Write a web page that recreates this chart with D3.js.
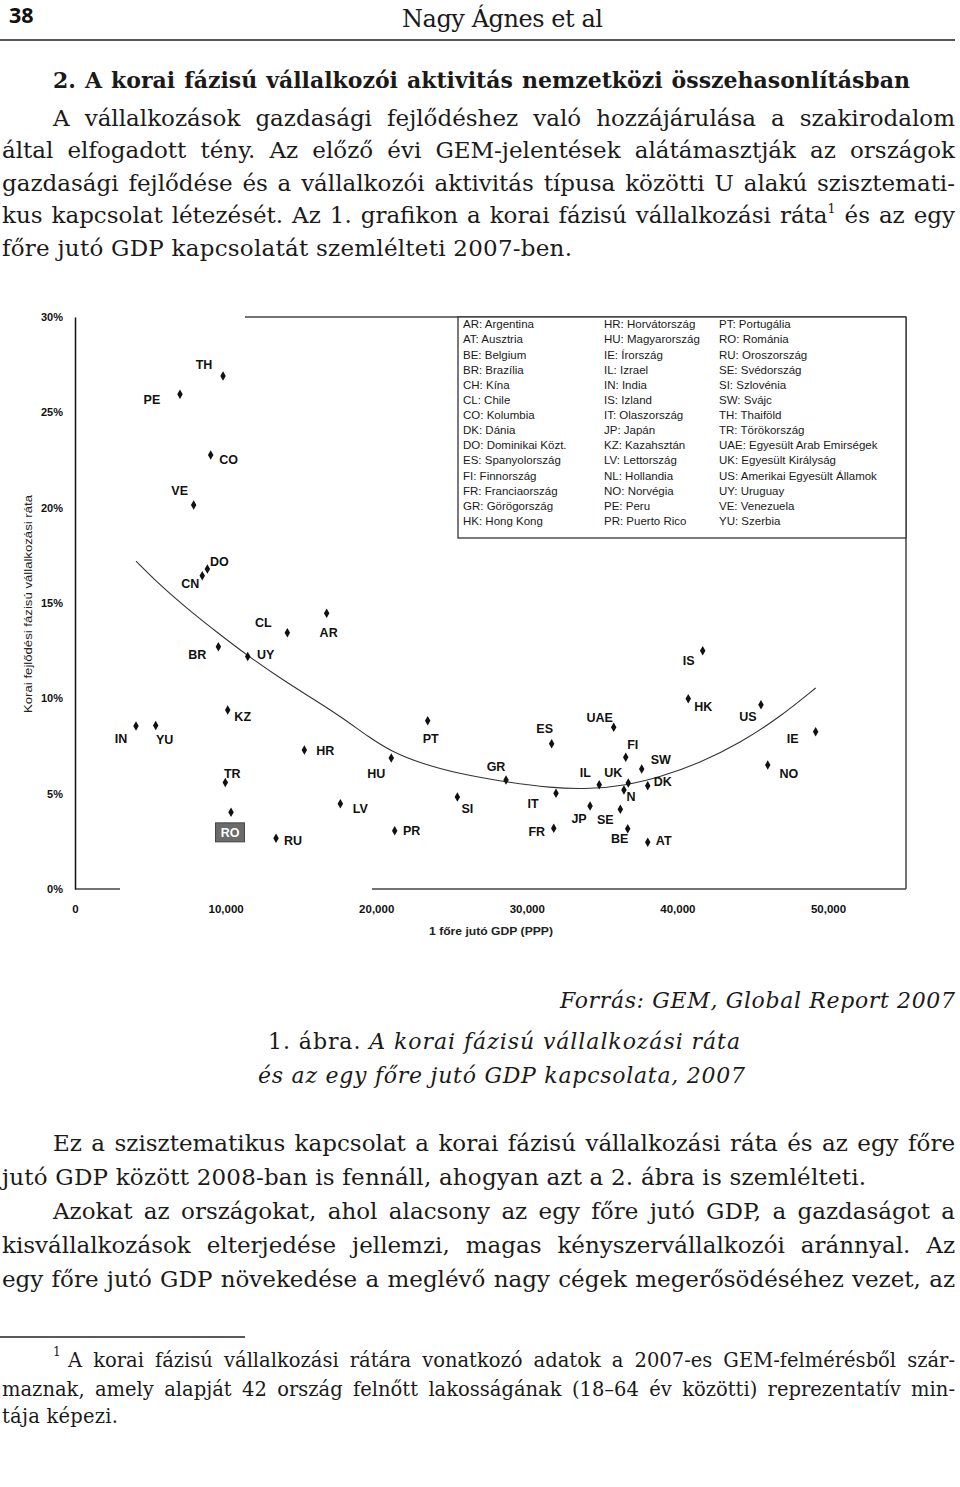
<!DOCTYPE html>
<html><head><meta charset="utf-8">
<script src="https://cdn.jsdelivr.net/npm/d3@7/dist/d3.min.js"></script>
<style>body{margin:0;background:#fff}svg{display:block}</style>
</head><body>
<script>
// ---------------- DATA ----------------
const codes = ["IN","YU","PE","VE","CN","DO","CO","BR","TH","TR","KZ","RO","UY","RU","CL","HR","AR","LV","HU","PR","PT","SI","GR","ES","FR","IT","JP","IL","UAE","FI","N","SE","UK","BE","SW","DK","AT","HK","IS","US","NO","IE"];
const gdpPerCapita = [4050,5360,6970,7880,8450,8790,9010,9520,9830,9980,10140,10360,11470,13350,14100,15230,16710,17620,21000,21230,23420,25390,28620,31650,31790,31940,34200,34810,35770,36570,36450,36210,36740,36700,37630,38030,38030,40720,41680,45550,46000,49180];
const earlyStageRate = [8.55,8.58,25.95,20.14,16.43,16.78,22.76,12.71,26.90,5.58,9.39,4.02,12.19,2.66,13.44,7.29,14.46,4.47,6.87,3.06,8.83,4.82,5.72,7.62,3.18,5.02,4.35,5.47,8.48,6.91,5.19,4.18,5.56,3.16,6.29,5.42,2.45,9.98,12.50,9.66,6.50,8.25];

const trendGdp  = [4050,5640,7640,9500,11490,13610,15600,17600,19590,20980,22910,25560,28620,31540,34200,36720,38850,41500,44160,46810,49180];
const trendRate = [17.20,15.94,14.58,13.42,12.22,11.06,10.07,9.07,7.92,7.23,6.60,6.03,5.61,5.30,5.24,5.45,5.87,6.61,7.65,9.02,10.54];

const xTickValues = [0,10000,20000,30000,40000,50000];
const yTickValues = [0,5,10,15,20,25,30];

const legendCodes = ["AR","AT","BE","BR","CH","CL","CO","DK","DO","ES","FI","FR","GR","HK",
                     "HR","HU","IE","IL","IN","IS","IT","JP","KZ","LV","NL","NO","PE","PR",
                     "PT","RO","RU","SE","SI","SW","TH","TR","UAE","UK","US","UY","VE","YU"];
const legendNames = ["Argentina","Ausztria","Belgium","Brazília","Kína","Chile","Kolumbia","Dánia","Dominikai Közt.","Spanyolország","Finnország","Franciaország","Görögország","Hong Kong",
                     "Horvátország","Magyarország","Írország","Izrael","India","Izland","Olaszország","Japán","Kazahsztán","Lettország","Hollandia","Norvégia","Peru","Puerto Rico",
                     "Portugália","Románia","Oroszország","Svédország","Szlovénia","Svájc","Thaiföld","Törökország","Egyesült Arab Emirségek","Egyesült Királyság","Amerikai Egyesült Államok","Uruguay","Venezuela","Szerbia"];

// label placement (pixel offsets from the point; layout only)
const labelOffset = {TH:[-19,-11],PE:[-28,5],CO:[18,5],VE:[-14,-14],DO:[12,-7],CN:[-12,8],CL:[-24,-10],AR:[2,19],
 BR:[-21,8],UY:[18,-2],KZ:[15,7],IN:[-15,13],YU:[9,14],HR:[21,1],TR:[7,-9],RO:[-1,20],RU:[17,2],PT:[3,18],
 HU:[-15,16],LV:[20,5],PR:[17,0],SI:[10,12],GR:[-10,-13],IT:[-23,10],ES:[-7,-15],FR:[-17,3],JP:[-11,13],
 SE:[-15,10],BE:[-8,10],AT:[16,-2],IL:[-14,-12],UK:[-15,-10],N:[7,7],DK:[15,-4],SW:[19,-9],FI:[7,-13],
 UAE:[-14,-10],IS:[-14,10],HK:[15,8],US:[-13,12],IE:[-23,7],NO:[21,9]};

// ---------------- PAGE ----------------
const W = 960, H = 1487;
const svg = d3.select("body").append("svg").attr("width", W).attr("height", H);
svg.append("rect").attr("width", W).attr("height", H).attr("fill", "#fff");

const SERIF = "'DejaVu Serif','Liberation Serif',serif";
const SANS = "'Liberation Sans',Arial,sans-serif";

function textLine(parts, o) {
  const t = svg.append("text").attr("x", o.x0).attr("y", o.y)
    .attr("font-family", o.family || SERIF).attr("font-size", o.size)
    .attr("font-weight", o.weight || "normal").attr("fill", o.fill || "#1a1a1a")
    .style("white-space", "pre");
  let full = "";
  parts.forEach(p => {
    const ts = t.append("tspan").text(p.t);
    full += p.t;
    if (p.italic) ts.attr("font-style", "italic");
    if (p.sup) { ts.attr("font-size", o.size * 0.55).attr("dy", -o.size * 0.42); }
    if (p.after) ts.attr("dy", o.size * 0.42);
  });
  if (o.x1 != null) {
    const L = t.node().getComputedTextLength();
    const Wd = o.x1 - o.x0;
    if (o.justify) {
      const n = (full.match(/ /g) || []).length;
      if (n) t.attr("word-spacing", (Wd - L) / n);
    } else {
      t.attr("letter-spacing", (Wd - L) / Math.max(1, full.length - 1));
    }
  }
  return t;
}
const P = s => [{t: s}];

// header
svg.append("text").attr("x", 9).attr("y", 23).attr("font-family", "'Open Sans',sans-serif")
  .attr("font-weight", 700).attr("font-size", 21.5).attr("fill", "#111").text("38");
textLine(P("Nagy Ágnes et al"), {x0: 402, x1: 603, y: 27, size: 24});
svg.append("line").attr("x1", 0).attr("x2", 955).attr("y1", 40).attr("y2", 40)
  .attr("stroke", "#222").attr("stroke-width", 1.6);

// heading + paragraph
textLine(P("2. A korai fázisú vállalkozói aktivitás nemzetközi összehasonlításban"),
  {x0: 53, x1: 910, y: 88, size: 22, weight: "bold", justify: true});
const bodyTop = [
  {p: P("A vállalkozások gazdasági fejlődéshez való hozzájárulása a szakirodalom"), x0: 53, x1: 955, y: 126, j: true},
  {p: P("által elfogadott tény. Az előző évi GEM-jelentések alátámasztják az országok"), x0: 2, x1: 955, y: 158, j: true},
  {p: P("gazdasági fejlődése és a vállalkozói aktivitás típusa közötti U alakú szisztemati-"), x0: 2, x1: 955, y: 191, j: true},
  {p: [{t: "kus kapcsolat létezését. Az 1. grafikon a korai fázisú vállalkozási ráta"}, {t: "1", sup: true}, {t: " és az egy", after: true}], x0: 2, x1: 955, y: 223, j: true},
  {p: P("főre jutó GDP kapcsolatát szemlélteti 2007-ben."), x0: 2, x1: 572, y: 256, j: false}
];
bodyTop.forEach(l => textLine(l.p, {x0: l.x0, x1: l.x1, y: l.y, size: 23, justify: l.j}));

// ---------------- CHART ----------------
const x = d3.scaleLinear().domain([0, 50000]).range([75, 828]);
const y = d3.scaleLinear().domain([0, 30]).range([889, 317]);
const chart = svg.append("g");

// frame (partially faded in the scan)
const frameCol = "#444";
chart.append("line").attr("x1", 245).attr("x2", 906).attr("y1", 317).attr("y2", 317).attr("stroke", frameCol).attr("stroke-width", 1.5);
chart.append("line").attr("x1", 906).attr("x2", 906).attr("y1", 317).attr("y2", 889).attr("stroke", frameCol).attr("stroke-width", 1.5);
chart.append("line").attr("x1", 75).attr("x2", 120).attr("y1", 889).attr("y2", 889).attr("stroke", frameCol).attr("stroke-width", 1.5);
chart.append("line").attr("x1", 372).attr("x2", 906).attr("y1", 889).attr("y2", 889).attr("stroke", frameCol).attr("stroke-width", 1.5);

// y axis
const yAxis = chart.append("g").attr("transform", "translate(75,0)")
  .call(d3.axisLeft(y).tickValues(yTickValues).tickFormat(d => d + "%").tickSizeInner(0).tickSizeOuter(0).tickPadding(12));
yAxis.select(".domain").attr("stroke", "#111").attr("stroke-width", 1.5);
yAxis.selectAll("text").attr("font-family", SANS).attr("font-weight", "bold").attr("font-size", 11).attr("fill", "#111");

// x axis (labels only; baseline drawn by frame)
const xAxis = chart.append("g").attr("transform", "translate(0,889)")
  .call(d3.axisBottom(x).tickValues(xTickValues).tickFormat(d3.format(",")).tickSizeInner(0).tickSizeOuter(0).tickPadding(16));
xAxis.select(".domain").remove();
xAxis.selectAll("text").attr("font-family", SANS).attr("font-weight", "bold").attr("font-size", 11.5).attr("fill", "#111");

// axis titles
chart.append("text").attr("x", 491).attr("y", 935).attr("text-anchor", "middle")
  .attr("font-family", SANS).attr("font-weight", "bold").attr("font-size", 11).attr("fill", "#222")
  .attr("textLength", 124).attr("lengthAdjust", "spacingAndGlyphs").text("1 főre jutó GDP (PPP)");
chart.append("text").attr("transform", "translate(32,604) rotate(-90)").attr("text-anchor", "middle")
  .attr("font-family", SANS).attr("font-size", 11.5).attr("fill", "#222")
  .attr("textLength", 218).attr("lengthAdjust", "spacingAndGlyphs").text("Korai fejlődési fázisú vállalkozási ráta");

// legend
const leg = chart.append("g");
leg.append("rect").attr("x", 458).attr("y", 317).attr("width", 448).attr("height", 221)
  .attr("fill", "#fff").attr("stroke", "#333").attr("stroke-width", 1.3);
const legCols = [463, 604, 719];
legendCodes.forEach((c, i) => {
  const col = Math.floor(i / 14), row = i % 14;
  leg.append("text").attr("x", legCols[col]).attr("y", 324.3 + row * 15.13).attr("dy", "0.35em")
    .attr("font-family", SANS).attr("font-size", 11.5).attr("fill", "#1a1a1a")
    .text(c + ": " + legendNames[i]);
});

// trend line
chart.append("path")
  .datum(trendGdp.map((g, i) => [g, trendRate[i]]))
  .attr("d", d3.line().x(d => x(d[0])).y(d => y(d[1])).curve(d3.curveBasis))
  .attr("fill", "none").attr("stroke", "#333").attr("stroke-width", 1.1);

// points
const pts = codes.map((c, i) => ({c, g: gdpPerCapita[i], r: earlyStageRate[i]}));
chart.append("g").selectAll("path").data(pts).join("path")
  .attr("transform", d => `translate(${x(d.g)},${y(d.r)})`)
  .attr("d", d3.symbol(d3.symbolDiamond).size(26)).attr("fill", "#111");

// labels
const lab = chart.append("g");
pts.forEach(d => {
  const [dx, dy] = labelOffset[d.c];
  const lx = x(d.g) + dx, ly = y(d.r) + dy;
  if (d.c === "RO") {
    lab.append("rect").attr("x", lx - 14.5).attr("y", ly - 9.5).attr("width", 29).attr("height", 19)
      .attr("fill", "#6b6b6b").attr("stroke", "#444");
    lab.append("text").attr("x", lx).attr("y", ly).attr("dy", "0.35em").attr("text-anchor", "middle")
      .attr("font-family", SANS).attr("font-weight", "bold").attr("font-size", 12.5).attr("fill", "#fff").text(d.c);
  } else {
    lab.append("text").attr("x", lx).attr("y", ly).attr("dy", "0.35em").attr("text-anchor", "middle")
      .attr("font-family", SANS).attr("font-weight", "bold").attr("font-size", 12.5).attr("fill", "#111").text(d.c);
  }
});

// ---------------- CAPTION & TEXT BELOW ----------------
textLine([{t: "Forrás: GEM, Global Report 2007", italic: true}], {x0: 560, x1: 955, y: 1008, size: 22});
textLine([{t: "1. ábra. "}, {t: "A korai fázisú vállalkozási ráta", italic: true}], {x0: 268, x1: 740, y: 1049, size: 22});
textLine([{t: "és az egy főre jutó GDP kapcsolata, 2007", italic: true}], {x0: 258, x1: 745, y: 1083, size: 22});

const bodyBottom = [
  {t: "Ez a szisztematikus kapcsolat a korai fázisú vállalkozási ráta és az egy főre", x0: 53, x1: 955, y: 1151, j: true},
  {t: "jutó GDP között 2008-ban is fennáll, ahogyan azt a 2. ábra is szemlélteti.", x0: 2, x1: 866, y: 1185, j: false},
  {t: "Azokat az országokat, ahol alacsony az egy főre jutó GDP, a gazdaságot a", x0: 53, x1: 955, y: 1219, j: true},
  {t: "kisvállalkozások elterjedése jellemzi, magas kényszervállalkozói aránnyal. Az", x0: 2, x1: 955, y: 1253, j: true},
  {t: "egy főre jutó GDP növekedése a meglévő nagy cégek megerősödéséhez vezet, az", x0: 2, x1: 955, y: 1287, j: true}
];
bodyBottom.forEach(l => textLine(P(l.t), {x0: l.x0, x1: l.x1, y: l.y, size: 23, justify: l.j}));

// footnote
svg.append("line").attr("x1", 0).attr("x2", 245).attr("y1", 1337).attr("y2", 1337).attr("stroke", "#222").attr("stroke-width", 1.4);
svg.append("text").attr("x", 53).attr("y", 1356).attr("font-family", SERIF).attr("font-size", 12).attr("fill", "#1a1a1a").text("1");
const foot = [
  {t: "A korai fázisú vállalkozási rátára vonatkozó adatok a 2007-es GEM-felmérésből szár-", x0: 68, x1: 955, y: 1367, j: true},
  {t: "maznak, amely alapját 42 ország felnőtt lakosságának (18–64 év közötti) reprezentatív min-", x0: 2, x1: 955, y: 1396, j: true},
  {t: "tája képezi.", x0: 2, x1: 118, y: 1423, j: false}
];
foot.forEach(l => textLine(P(l.t), {x0: l.x0, x1: l.x1, y: l.y, size: 19.5, justify: l.j}));
</script>
</body></html>
